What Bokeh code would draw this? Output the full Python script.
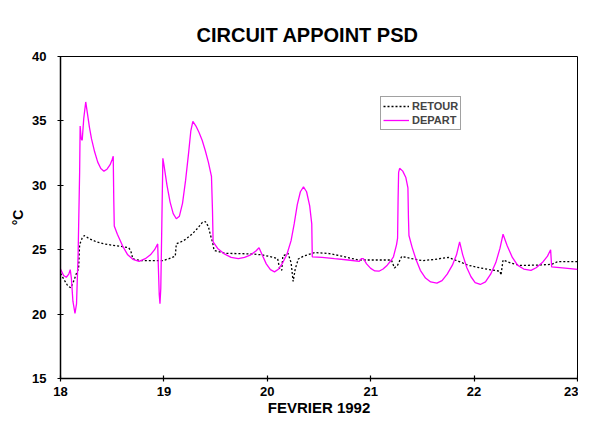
from bokeh.plotting import figure
from bokeh.models import Range1d, FixedTicker, Title
from bokeh.embed import file_html
from bokeh.resources import INLINE

title_text = "CIRCUIT APPOINT PSD"
x_label = "FEVRIER 1992"
y_label = "°C"
x_ticks = [18, 19, 20, 21, 22, 23]
y_ticks = [15, 20, 25, 30, 35, 40]

depart_day = [18.00, 18.03, 18.056, 18.08, 18.094, 18.105, 18.12, 18.14, 18.155, 18.17,
              18.185, 18.19, 18.20, 18.21, 18.225, 18.244, 18.26, 18.28, 18.30, 18.33,
              18.36, 18.39, 18.42, 18.45, 18.48, 18.50, 18.51, 18.515, 18.52, 18.55,
              18.60, 18.65, 18.70, 18.76, 18.82, 18.87, 18.91, 18.94, 18.945, 18.955,
              18.962, 18.97, 18.98, 18.99, 19.00, 19.03, 19.06, 19.09, 19.12, 19.15,
              19.18, 19.21, 19.24, 19.26, 19.28, 19.31, 19.34, 19.37, 19.40, 19.43,
              19.46, 19.47, 19.476, 19.52, 19.58, 19.65, 19.72, 19.78, 19.84, 19.89,
              19.92, 19.95, 19.99, 20.03, 20.07, 20.11, 20.15, 20.19, 20.23, 20.26,
              20.29, 20.32, 20.35, 20.38, 20.41, 20.43, 20.435, 20.53, 20.65, 20.78,
              20.89, 20.91, 20.93, 20.96, 21.00, 21.04, 21.08, 21.12, 21.16, 21.20,
              21.22, 21.25, 21.26, 21.265, 21.27, 21.28, 21.31, 21.34, 21.36, 21.365,
              21.37, 21.40, 21.44, 21.48, 21.53, 21.58, 21.64, 21.69, 21.74, 21.79,
              21.83, 21.86, 21.89, 21.93, 21.97, 22.01, 22.06, 22.11, 22.16, 22.21,
              22.25, 22.28, 22.32, 22.37, 22.42, 22.48, 22.55, 22.60, 22.66, 22.71,
              22.74, 22.75, 22.88, 23.00]
depart_temp = [23.5, 23.0, 22.86, 23.1, 23.45, 22.8, 21.0, 20.05, 20.8, 24.5,
               31.0, 34.6, 33.6, 33.5, 35.2, 36.47, 35.6, 34.5, 33.6, 32.6,
               31.8, 31.3, 31.1, 31.25, 31.6, 32.0, 32.25, 29.0, 26.84, 26.2,
               25.3, 24.6, 24.25, 24.1, 24.3, 24.6, 25.0, 25.45, 24.0, 21.5,
               20.8, 22.0, 27.0, 32.1, 31.6, 30.0, 28.7, 27.8, 27.4, 27.6,
               28.6, 30.4, 32.6, 34.2, 34.97, 34.6, 34.1, 33.5, 32.7, 31.8,
               30.7, 28.0, 25.6, 25.1, 24.7, 24.4, 24.3, 24.4, 24.6, 24.9,
               25.15, 24.6, 23.9, 23.45, 23.28, 23.5, 24.0, 24.65, 25.7, 27.0,
               28.5, 29.5, 29.87, 29.5, 28.4, 27.0, 24.45, 24.4, 24.3, 24.2,
               24.1, 24.3, 24.3, 23.9, 23.55, 23.35, 23.33, 23.5, 23.8, 24.2,
               24.45, 25.4, 25.9, 29.0, 31.0, 31.32, 31.1, 30.6, 29.8, 27.5,
               26.1, 25.2, 24.2, 23.4, 22.8, 22.5, 22.4, 22.6, 23.1, 23.8,
               24.6, 25.6, 24.6, 23.6, 22.9, 22.45, 22.3, 22.5, 23.1, 24.0,
               25.1, 26.2, 25.3, 24.4, 23.8, 23.5, 23.4, 23.6, 24.0, 24.5,
               25.0, 23.66, 23.57, 23.48]

retour_day = [18.00, 18.04, 18.07, 18.10, 18.13, 18.16, 18.175, 18.185, 18.21, 18.23,
              18.28, 18.35, 18.42, 18.50, 18.58, 18.66, 18.68, 18.70, 18.78, 18.89,
              18.99, 19.05, 19.11, 19.12, 19.19, 19.24, 19.28, 19.33, 19.37, 19.40,
              19.43, 19.45, 19.47, 19.485, 19.59, 19.70, 19.80, 19.876, 19.95, 20.06,
              20.10, 20.12, 20.14, 20.15, 20.20, 20.23, 20.25, 20.27, 20.30, 20.35,
              20.46, 20.60, 20.72, 20.88, 21.05, 21.20, 21.23, 21.26, 21.30, 21.40,
              21.50, 21.62, 21.75, 21.85, 21.94, 22.05, 22.15, 22.25, 22.26, 22.28,
              22.36, 22.44, 22.60, 22.75, 22.81, 23.00]
retour_temp = [23.16, 22.6, 22.2, 22.04, 22.6, 23.3, 23.5, 25.4, 25.9, 26.1,
               25.85, 25.6, 25.45, 25.35, 25.27, 25.15, 24.9, 24.28, 24.15, 24.15,
               24.15, 24.3, 24.5, 25.45, 25.7, 26.0, 26.27, 26.7, 27.1, 27.19,
               26.8, 26.14, 25.6, 24.95, 24.72, 24.7, 24.68, 24.65, 24.6, 24.4,
               24.3, 23.5, 23.4, 24.5, 24.72, 24.0, 22.54, 23.5, 24.28, 24.5,
               24.78, 24.7, 24.5, 24.2, 24.2, 24.2, 23.58, 23.8, 24.48, 24.3,
               24.15, 24.25, 24.4, 24.1, 23.8, 23.6, 23.45, 23.33, 23.03, 24.2,
               23.95, 23.78, 23.8, 23.86, 24.08, 24.08]

FONT = "Liberation Sans"

p = figure(width=578, height=418, output_backend="svg", toolbar_location=None,
           x_range=Range1d(18, 23), y_range=Range1d(15, 40),
           min_border_left=60, min_border_right=1, min_border_top=56, min_border_bottom=38,
           background_fill_color="white", border_fill_color="white")

p.title.text = title_text
p.title.text_font = FONT
p.title.text_font_size = "20px"
p.title.text_font_style = "bold"
p.title.text_color = "black"
p.title.align = "left"
p.title.offset = 136
p.title.standoff = 0

# empty spacer between the title and the plot frame, lifts the title
p.add_layout(Title(text=" ", text_font_size="2px", standoff=7), "above")

p.line(retour_day, retour_temp, line_color="black", line_width=1.3, line_dash="2 2",
       legend_label="RETOUR")
p.line(depart_day, depart_temp, line_color="#FF00FF", line_width=1.3,
       legend_label="DEPART")

p.xgrid.visible = False
p.ygrid.visible = False
p.outline_line_color = "black"
p.outline_line_width = 1

for ax in (p.xaxis[0], p.yaxis[0]):
    ax.axis_line_color = "black"
    ax.axis_line_width = 1.5
    ax.major_tick_line_color = "black"
    ax.major_tick_line_width = 1.2
    ax.major_tick_in = 3
    ax.major_tick_out = 3
    ax.minor_tick_line_color = None
    ax.major_label_text_font = FONT
    ax.major_label_text_font_style = "bold"
    ax.major_label_text_font_size = "13px"
    ax.major_label_text_color = "black"
    ax.axis_label_text_font = FONT
    ax.axis_label_text_font_style = "bold"
    ax.axis_label_text_color = "black"

p.xaxis[0].ticker = FixedTicker(ticks=x_ticks)
p.yaxis[0].ticker = FixedTicker(ticks=y_ticks)
p.xaxis[0].major_label_standoff = 5
p.yaxis[0].major_label_standoff = 11
p.xaxis[0].axis_label = x_label
p.xaxis[0].axis_label_text_font_size = "15px"
p.xaxis[0].axis_label_standoff = 0
p.yaxis[0].axis_label = y_label
p.yaxis[0].axis_label_text_font_size = "14px"
p.yaxis[0].axis_label_standoff = 3

lg = p.legend[0]
lg.location = (320, 248)
lg.label_text_font = FONT
lg.label_text_font_style = "bold"
lg.label_text_font_size = "11px"
lg.glyph_width = 26
lg.glyph_height = 14
lg.label_height = 14
lg.label_standoff = 3
lg.padding = 2
lg.spacing = 0
lg.margin = 0
lg.border_line_color = "#444444"
lg.border_line_width = 1.5
lg.background_fill_color = "white"

open("out.html", "w").write(file_html(p, INLINE))
